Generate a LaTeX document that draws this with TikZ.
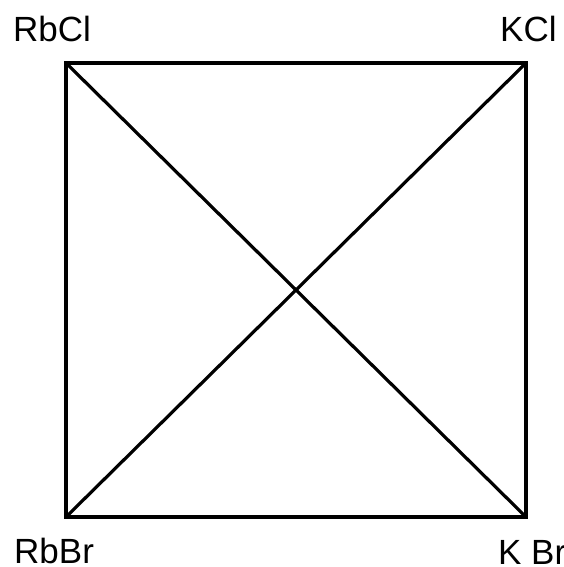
\documentclass[tikz,border=0pt]{standalone}
\usepackage{fontspec}
\setmainfont{Liberation Sans}
\begin{document}
\begin{tikzpicture}[x=1pt,y=1pt,
  edge/.style={line width=3.2pt, line join=miter},
  lbl/.style={inner sep=0pt, anchor=base west, font=\fontsize{35}{40}\selectfont}]
\path[use as bounding box] (0,0) rectangle (563,567);
\clip (0,0) rectangle (563,567);
\coordinate (tl) at (66,504);
\coordinate (tr) at (526,504);
\coordinate (bl) at (66,50);
\coordinate (br) at (526,50);
\draw[edge] (tl) -- (tr) -- (br) -- (bl) -- cycle;
\draw[edge] (tl) -- (br);
\draw[edge] (tr) -- (bl);
\node[lbl] (rbcl) at (13,525) {RbCl};
\node[lbl] (kcl) at (500,525) {KCl};
\node[lbl] (rbbr) at (14,3) {RbBr};
\node[lbl] (kbr) at (498,2) {K Br};
\end{tikzpicture}
\end{document}
